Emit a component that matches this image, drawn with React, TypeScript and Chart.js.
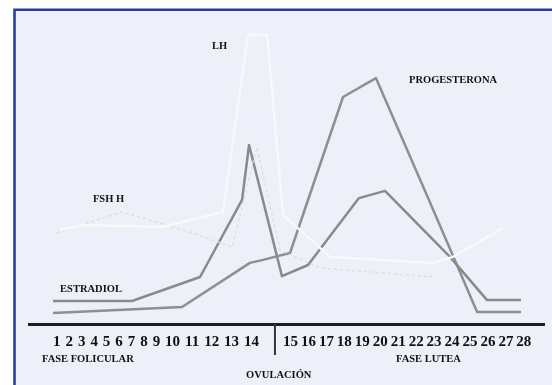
import { useEffect, useRef } from 'react';
import { Chart, registerables } from 'chart.js';

Chart.register(...registerables);

// Day-of-cycle tick labels
const follicularLabels = ['1', '2', '3', '4', '5', '6', '7', '8', '9', '10', '11', '12', '13', '14'];
const lutealLabels = ['15', '16', '17', '18', '19', '20', '21', '22', '23', '24', '25', '26', '27', '28'];

// Estradiol (dark line with two peaks)
const estradiolDays = [0.86, 5.37, 9.26, 11.66, 12.06, 13.94, 15.43, 18.34, 19.83, 23.54, 25.66, 27.6];
const estradiolLevels = [8, 8, 16, 41.7, 60, 16.3, 20, 42.3, 44.7, 22.7, 8.3, 8.3];

// Progesterone (dark line, luteal hump)
const progesteroneDays = [0.86, 8.23, 12.11, 12.86, 14.4, 17.43, 19.31, 22.34, 23.89, 25.09, 27.6];
const progesteroneLevels = [4, 6, 20.7, 21.7, 24, 76, 82.3, 41.7, 20.7, 4.3, 4.3];

// LH (light line, tall ovulatory peak)
const lhDays = [1.26, 2.57, 7.14, 10.57, 12.0, 13.09, 14.0, 16.69, 22.57, 23.71, 26.57];
const lhLevels = [31.7, 33.3, 32.7, 37.7, 96.7, 96.7, 36.7, 22.7, 20.7, 22.7, 32.3];

// FSH (faint dotted line)
const fshDays = [1.09, 4.8, 8.86, 11.09, 12.51, 13.83, 16.11, 22.57];
const fshLevels = [30.7, 37.7, 30.7, 26, 59.3, 25, 19, 16];

const toPoints = (xs: number[], ys: number[]) => xs.map((x, i) => ({ x, y: ys[i] }));

// Annotation texts (position in day / level units)
const annotations = [
  { text: 'LH', day: 9.94, level: 93 },
  { text: 'PROGESTERONA', day: 21.2, level: 81.7 },
  { text: 'FSH H', day: 3.14, level: 42 },
  { text: 'ESTRADIOL', day: 1.26, level: 12 },
  { text: 'FASE FOLICULAR', day: 0.23, level: -11.3 },
  { text: 'FASE LUTEA', day: 20.46, level: -11.3 },
  { text: 'OVULACIÓN', day: 11.89, level: -16.7 },
];

const decorPlugin = {
  id: 'decor',
  beforeDraw(chart: any) {
    const ctx = chart.ctx;
    ctx.save();
    ctx.fillStyle = '#ffffff';
    ctx.fillRect(0, 0, chart.width, chart.height);
    ctx.fillStyle = '#edf0f8';
    ctx.fillRect(14, 9, chart.width - 14, chart.height - 9);
    ctx.strokeStyle = '#2b3c9c';
    ctx.lineWidth = 2.6;
    ctx.beginPath();
    ctx.moveTo(14.5, chart.height);
    ctx.lineTo(14.5, 9.8);
    ctx.lineTo(chart.width, 9.8);
    ctx.stroke();
    ctx.restore();
  },
  afterDatasetsDraw(chart: any) {
    const ctx = chart.ctx;
    const xs = chart.scales.x;
    const ys = chart.scales.y;
    ctx.save();
    // main axis line
    ctx.strokeStyle = '#1e1e1e';
    ctx.lineWidth = 3;
    ctx.beginPath();
    ctx.moveTo(xs.getPixelForValue(-0.57), ys.getPixelForValue(0.2));
    ctx.lineTo(xs.getPixelForValue(28.97), ys.getPixelForValue(0.2));
    ctx.stroke();
    // ovulation separator
    ctx.strokeStyle = '#333333';
    ctx.lineWidth = 2;
    ctx.beginPath();
    ctx.moveTo(xs.getPixelForValue(13.54), ys.getPixelForValue(0.5));
    ctx.lineTo(xs.getPixelForValue(13.54), ys.getPixelForValue(-10));
    ctx.stroke();
    // day labels
    ctx.fillStyle = '#111111';
    ctx.textBaseline = 'alphabetic';
    ctx.textAlign = 'left';
    ctx.font = 'bold 15px "Liberation Serif"';
    const base = ys.getPixelForValue(-7);
    (ctx as any).wordSpacing = '1.2px';
    ctx.fillText(follicularLabels.join(' '), xs.getPixelForValue(0.86), base);
    (ctx as any).wordSpacing = '-0.8px';
    ctx.fillText(lutealLabels.join(' '), xs.getPixelForValue(14.0), base);
    (ctx as any).wordSpacing = '0px';
    // annotations
    ctx.font = 'bold 10.5px "Liberation Serif"';
    ctx.textBaseline = 'middle';
    annotations.forEach((a) => {
      ctx.fillText(a.text, xs.getPixelForValue(a.day), ys.getPixelForValue(a.level));
    });
    ctx.restore();
  },
};

export default function App() {
  const canvasRef = useRef<HTMLCanvasElement | null>(null);

  useEffect(() => {
    if (!canvasRef.current) return;
    const chart = new Chart(canvasRef.current, {
      type: 'line',
      data: {
        datasets: [
          {
            label: 'LH',
            data: toPoints(lhDays, lhLevels),
            borderColor: '#f9f9f9',
            borderWidth: 2.5,
            pointRadius: 0,
            tension: 0,
            borderJoinStyle: 'round',
          },
          {
            label: 'FSH',
            data: toPoints(fshDays, fshLevels),
            borderColor: '#dcdcdc',
            borderWidth: 1.3,
            borderDash: [3, 3],
            pointRadius: 0,
            tension: 0,
          },
          {
            label: 'Estradiol',
            data: toPoints(estradiolDays, estradiolLevels),
            borderColor: '#8a8a8a',
            borderWidth: 2.5,
            pointRadius: 0,
            tension: 0,
            borderJoinStyle: 'round',
          },
          {
            label: 'Progesterona',
            data: toPoints(progesteroneDays, progesteroneLevels),
            borderColor: '#8f8f8f',
            borderWidth: 2.5,
            pointRadius: 0,
            tension: 0,
            borderJoinStyle: 'round',
          },
        ],
      },
      options: {
        animation: false,
        responsive: false,
        layout: { padding: { left: 38, right: 24, top: 25, bottom: 60 } },
        plugins: { legend: { display: false }, tooltip: { enabled: false } },
        scales: {
          x: { type: 'linear', min: 0, max: 28, display: false },
          y: { type: 'linear', min: 0, max: 100, display: false },
        },
      },
      plugins: [decorPlugin],
    });
    return () => chart.destroy();
  }, []);

  return (
    <div style={{ position: 'fixed', left: 0, top: 0, width: 552, height: 385 }}>
      <canvas ref={canvasRef} width={552} height={385} style={{ width: 552, height: 385, display: 'block' }} />
    </div>
  );
}
